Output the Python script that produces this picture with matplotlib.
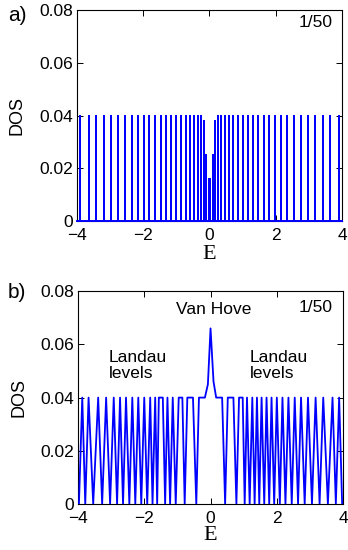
import numpy as np
import matplotlib
matplotlib.use("Agg")
import matplotlib.pyplot as plt

plt.rcParams['font.family'] = ['Liberation Sans', 'DejaVu Sans']

# a) DOS, fine binning: one spike per Landau level
a_energy = [-3.90, -3.65, -3.41, -3.19, -2.97, -2.76, -2.55, -2.35, -2.17, -1.99,
            -1.81, -1.64, -1.47, -1.31, -1.15, -1.00, -0.86, -0.72, -0.60, -0.47,
            -0.36, -0.27, -0.18, -0.10, -0.03,
            0.03, 0.10, 0.18, 0.27, 0.36, 0.47, 0.60, 0.72, 0.86, 1.00,
            1.15, 1.31, 1.47, 1.64, 1.81, 1.99, 2.17, 2.35, 2.55, 2.76,
            2.97, 3.19, 3.41, 3.65, 3.90]
a_dos = [0.04] * 22 + [0.038, 0.025, 0.016, 0.016, 0.025, 0.038] + [0.04] * 22

# b) DOS, coarse binning
b_energy = [-3.97, -3.87, -3.78, -3.68, -3.54, -3.39, -3.27, -3.15, -3.03, -2.92,
            -2.82, -2.73, -2.64, -2.55, -2.45, -2.36, -2.27, -2.18, -2.09, -2.00,
            -1.91, -1.82, -1.75, -1.67, -1.61, -1.56, -1.44, -1.37, -1.30, -1.22,
            -1.14, -1.05, -0.96, -0.85, -0.78, -0.70, -0.53, -0.43, -0.35, -0.17,
            -0.08, 0.00, 0.09, 0.17, 0.35, 0.44, 0.52, 0.69, 0.78, 0.86,
            0.97, 1.03, 1.10, 1.18, 1.26, 1.33, 1.40, 1.47, 1.54, 1.62,
            1.69, 1.77, 1.84, 1.92, 2.00, 2.09, 2.17, 2.26, 2.35, 2.45,
            2.54, 2.64, 2.73, 2.84, 2.94, 3.06, 3.17, 3.29, 3.40, 3.54,
            3.68, 3.78, 3.88, 3.97]
b_dos = [0, 0.04, 0, 0.04, 0, 0.04, 0, 0.04, 0, 0.04,
         0, 0.04, 0, 0.04, 0, 0.04, 0, 0.04, 0, 0.04,
         0, 0.04, 0, 0.04, 0, 0.04, 0.04, 0, 0.04, 0,
         0.04, 0, 0.04, 0.04, 0, 0.04, 0.04, 0, 0.04, 0.04,
         0.045, 0.066, 0.046, 0.04, 0.04, 0, 0.04, 0.04, 0, 0.04,
         0.04, 0, 0.04, 0, 0.04, 0, 0.04, 0, 0.04, 0,
         0.04, 0, 0.04, 0, 0.04, 0, 0.04, 0, 0.04, 0,
         0.04, 0, 0.04, 0, 0.04, 0, 0.04, 0, 0.04, 0,
         0.04, 0, 0.04, 0]

e_range = (-4, 4)
x_ticks = [-4, -2, 0, 2, 4]
y_ticks = [0, 0.02, 0.04, 0.06, 0.08]
y_ticklabels = ['0', '0.02', '0.04', '0.06', '0.08']
flux_label = '1/50'

blue = (0, 0, 1)


def style_axes(ax):
    ax.set_xlim(*e_range)
    ax.set_ylim(0, 0.08)
    ax.set_xticks(x_ticks)
    ax.set_yticks(y_ticks)
    ax.set_yticklabels(y_ticklabels)
    ax.tick_params(direction='in', top=True, right=True, length=4, width=0.7,
                   labelsize=12.5, pad=3)
    ax.tick_params(axis='x', pad=5)
    for s in ax.spines.values():
        s.set_linewidth(0.8)
    ax.set_ylabel('DOS', fontsize=13)
    ax.set_xlabel('E', fontsize=16, family=['Liberation Serif', 'DejaVu Serif'])


fig = plt.figure(figsize=(3.48, 5.5), dpi=100)

# panel a
ax1 = fig.add_axes([0.221, 0.598, 0.762, 0.384])
xs = [e_range[0]]
ys = [0]
for e, h in zip(a_energy, a_dos):
    xs += [e, e, e]
    ys += [0, h, 0]
xs.append(e_range[1])
ys.append(0)
ax1.plot(xs, ys, color=blue, lw=1.4, zorder=3, clip_on=False)
style_axes(ax1)
ax1.yaxis.set_label_coords(-0.195, 0.5)
ax1.xaxis.set_label_coords(0.5, -0.115)
ax1.text(0.966, 0.94, flux_label, transform=ax1.transAxes, ha='right', va='center',
         fontsize=12.5)

# panel b
ax2 = fig.add_axes([0.224, 0.0836, 0.762, 0.387])
ax2.plot(b_energy, b_dos, color=blue, lw=1.3, zorder=3)
style_axes(ax2)
ax2.yaxis.set_label_coords(-0.19, 0.5)
ax2.xaxis.set_label_coords(0.5, -0.105)
ax2.text(0.962, 0.925, flux_label, transform=ax2.transAxes, ha='right', va='center',
         fontsize=12.5)
ax2.text(0.1, 0.0731, 'Van Hove', ha='center', va='center', fontsize=12.5)
ax2.text(-3.06, 0.0521, 'Landau\nlevels', ha='left', va='center', fontsize=12.5,
         linespacing=1.15)
ax2.text(1.19, 0.0521, 'Landau\nlevels', ha='left', va='center', fontsize=12.5,
         linespacing=1.15)

fig.text(0.023, 0.971, 'a)', ha='left', va='center', fontsize=15)
fig.text(0.023, 0.468, 'b)', ha='left', va='center', fontsize=15)

fig.savefig('out.png', dpi=100)
